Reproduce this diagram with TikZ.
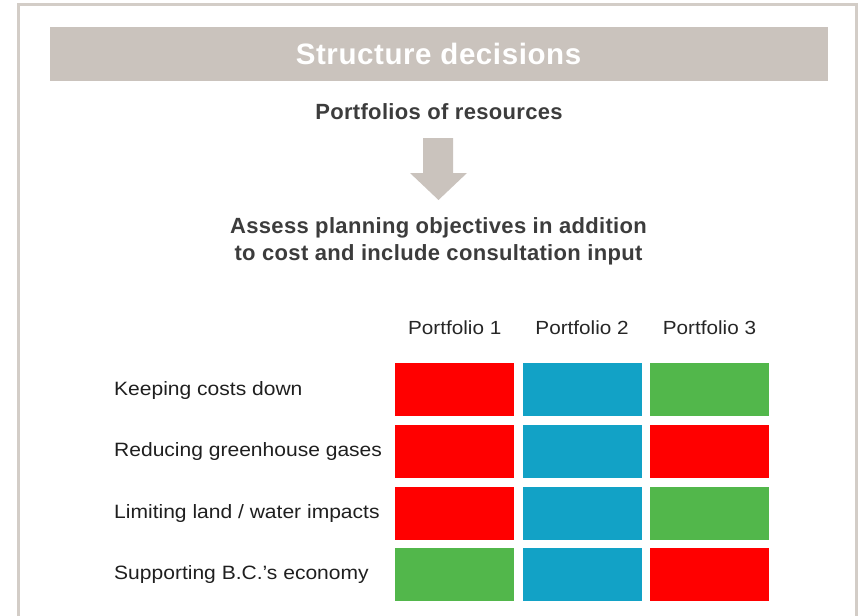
\documentclass[tikz,border=0pt]{standalone}
\usepackage{fontspec}
\setmainfont{Liberation Sans}[FakeStretch=1.09]
\newfontfamily\spacedbf{Liberation Sans}[LetterSpace=1.5]
\newfontfamily\titlebf{Liberation Sans}[LetterSpace=2]
\usetikzlibrary{positioning}

\definecolor{bargrey}{HTML}{CAC3BD}
\definecolor{framegrey}{HTML}{D3CDC7}
\definecolor{txtgrey}{HTML}{3C3C3C}
\definecolor{poorred}{HTML}{FF0000}
\definecolor{fairblue}{HTML}{12A2C6}
\definecolor{goodgreen}{HTML}{52B74B}

\begin{document}
\begin{tikzpicture}[
						x=1pt, y=-1pt,
						cell/.style = {minimum width=119pt, minimum height=53pt, inner sep=0pt},
						poor/.style = {cell, fill=poorred},
						fair/.style = {cell, fill=fairblue},
						good/.style = {cell, fill=goodgreen},
						crit/.style = {anchor=west, inner sep=0pt, text=black!88, font=\fontsize{19.3}{23}\selectfont},
						head/.style = {inner sep=0pt, text=black!85, font=\fontsize{19}{23}\selectfont},
						stage/.style = {align=center, inner sep=0pt, text=txtgrey, font=\spacedbf\bfseries\fontsize{22}{27}\selectfont}
					]
					\useasboundingbox (0,0) rectangle (860,616);
					\draw[framegrey, line width=2.5pt] (18.5,620) -- (18.5,4.5) -- (856.5,4.5) -- (856.5,620);
					\node[fill=bargrey, minimum width=778pt, minimum height=54.5pt, inner sep=0pt, text=white,
						font=\titlebf\bfseries\fontsize{29.5}{32}\selectfont] (title) at (438.5,54) {Structure decisions};
					\node[stage] (port) at (439,111.5) {Portfolios of resources};
					\fill[bargrey] (423,138) -- (453,138) -- (453,173) -- (467,173) -- (438.5,200) -- (410,173) -- (423,173) -- cycle;
					\node[stage] (assess) at (438.5,241.5) {Assess planning objectives in addition\\to cost and include consultation input};
					% scoring grid
					\node[poor, anchor=north west] (c11) at (395,363) {};
					\node[fair] (c12) [right=8pt of c11] {};
					\node[good] (c13) [right=8pt of c12] {};
					\node[poor] (c21) [below=8.3pt of c11] {};
					\node[fair] (c22) [right=8pt of c21] {};
					\node[poor] (c23) [right=8pt of c22] {};
					\node[poor] (c31) [below=8.3pt of c21] {};
					\node[fair] (c32) [right=8pt of c31] {};
					\node[good] (c33) [right=8pt of c32] {};
					\node[good] (c41) [below=8.3pt of c31] {};
					\node[fair] (c42) [right=8pt of c41] {};
					\node[poor] (c43) [right=8pt of c42] {};
					\node[head, above=35pt of c11.north, anchor=center] (p1) {Portfolio 1};
					\node[head, above=35pt of c12.north, anchor=center] (p2) {Portfolio 2};
					\node[head, above=35pt of c13.north, anchor=center] (p3) {Portfolio 3};
					\node[crit] (r1) at (114,390.5) {Keeping costs down};
					\node[crit] (r2) at (114,451.8) {Reducing greenhouse gases};
					\node[crit] (r3) at (114,513.1) {Limiting land / water impacts};
					\node[crit] (r4) at (114,574.4) {Supporting B.C.'s economy};
				\end{tikzpicture}
\end{document}
